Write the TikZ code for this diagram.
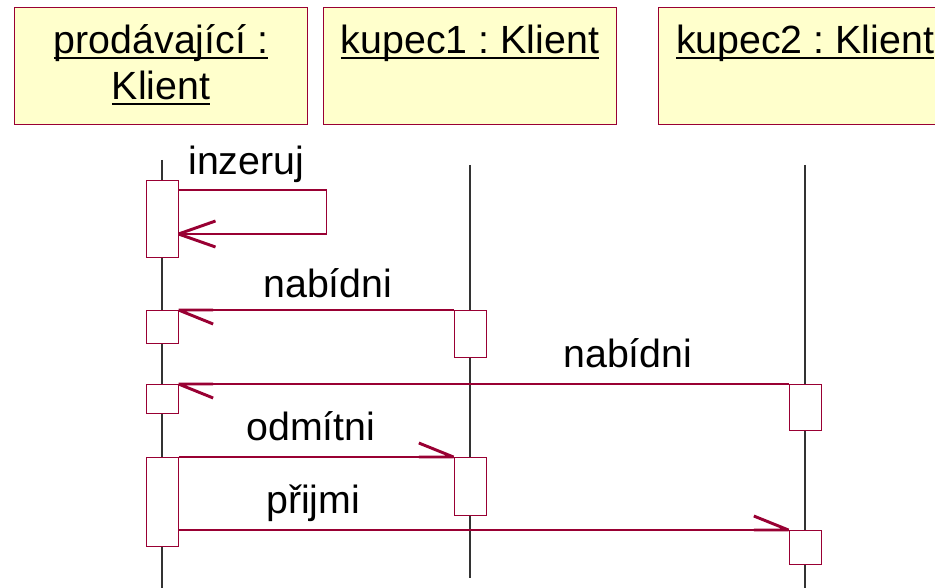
\documentclass[tikz,border=0pt]{standalone}
\usepackage{fontspec}
\setmainfont{Liberation Sans}
\usetikzlibrary{positioning,calc}
\frenchspacing

\definecolor{umlred}{RGB}{153,0,51}
\definecolor{headfill}{RGB}{255,255,204}

\newcommand{\ulbox}[1]{\vtop{\hbox{\raisebox{0pt}[\height][0pt]{#1}}\kern3pt\hrule height 1.5pt}}

\pgfdeclarearrow{
  name = halfv,
  setup code = {
    \pgfarrowssettipend{0pt}
    \pgfarrowssetlineend{0pt}
    \pgfarrowshullpoint{0pt}{0pt}
    \pgfarrowshullpoint{-26pt}{10.5pt}
    \pgfarrowshullpoint{-26pt}{0pt}
  },
  drawing code = {
    \pgfsetlinewidth{2.2pt}
    \pgfsetbuttcap
    \pgfpathmoveto{\pgfqpoint{-26pt}{0pt}}
    \pgfpathlineto{\pgfqpoint{0pt}{0pt}}
    \pgfpathmoveto{\pgfqpoint{-26pt}{10.5pt}}
    \pgfpathlineto{\pgfqpoint{0pt}{0pt}}
    \pgfusepathqstroke
  }
}

\pgfdeclarearrow{
  name = openv,
  setup code = {
    \pgfarrowssettipend{0pt}
    \pgfarrowssetlineend{0pt}
    \pgfarrowsupperhullpoint{0pt}{0pt}
    \pgfarrowsupperhullpoint{-27.75pt}{9.75pt}
  },
  drawing code = {
    \pgfsetlinewidth{2.2pt}
    \pgfsetbeveljoin
    \pgfpathmoveto{\pgfqpoint{-27.75pt}{9.75pt}}
    \pgfpathlineto{\pgfqpoint{0pt}{0pt}}
    \pgfpathlineto{\pgfqpoint{-27.75pt}{-9.75pt}}
    \pgfusepathqstroke
  }
}

\begin{document}
\begin{tikzpicture}
    [x=0.75pt, y=-0.75pt,
     head/.style={draw=umlred, fill=headfill, line width=0.75pt, inner sep=0pt, anchor=north west,
       minimum width=219.75pt, text height=34.5pt, text depth=53.25pt, font=\fontsize{29.5}{34.5}\selectfont},
     act/.style={draw=umlred, fill=white, line width=0.75pt, inner sep=0pt, minimum width=24pt, anchor=north},
     life/.style={draw=black!80, line width=0.8pt},
     msg/.style={draw=umlred, line width=0.8pt},
     lbl/.style={inner sep=0pt, anchor=base west, font=\fontsize{29.5}{34.5}\selectfont}]
  \useasboundingbox (0,0) rectangle (935,588);

  \node[head] (p1) at (14,7) {\begin{tabular}[t]{@{}c@{}}\ulbox{prodávající :}\\\ulbox{Klient}\end{tabular}};
  \node[head] (k1) at (323,7) {\ulbox{kupec1 : Klient}};
  \node[head] (k2) at (658,7) {\ulbox{kupec2 : Klient}};

  % lifelines
  \foreach \n/\x/\top/\bot in {p1/162/160/590, k1/470/165/578, k2/805/165/590}
  {
    \coordinate (\n top) at (\x,\top);
    \coordinate (\n bot) at (\x,\bot);
    \draw[life] (\n top) -- (\n bot);
  }

  % activations
  \foreach \n/\x/\y/\h in {a1/162/180/77, a2/162/310/33, a3/470/310/47, a4/162/384/29,
                           a5/805/384/46, a6/162/457/89, a7/470/457/58, a8/805/530/34}
    \node[act, minimum height=\h*0.75pt] (\n) at (\x,\y) {};

  % messages
  \draw[msg, -openv] ($(a1.north east)+(0,10)$) -- ++(148,0) -- ++(0,44) -- ($(a1.north east)+(0,54)$);
  \draw[msg, -halfv] (a3.north west) -- (a2.north east);
  \draw[msg, -halfv] (a5.north west) -- (a4.north east);
  \draw[msg, -halfv] (a6.north east) -- (a7.north west);
  \draw[msg, -halfv] (a6.east |- a8.north) -- (a8.north west);

  \node[lbl] (inz) at (188,175) {inzeruj};
  \node[lbl] (nab1) at (263,297) {nabídni};
  \node[lbl] (nab2) at (563,367) {nabídni};
  \node[lbl] (odm) at (246,440) {odmítni};
  \node[lbl] (pri) at (266,513) {přijmi};
\end{tikzpicture}
\end{document}
